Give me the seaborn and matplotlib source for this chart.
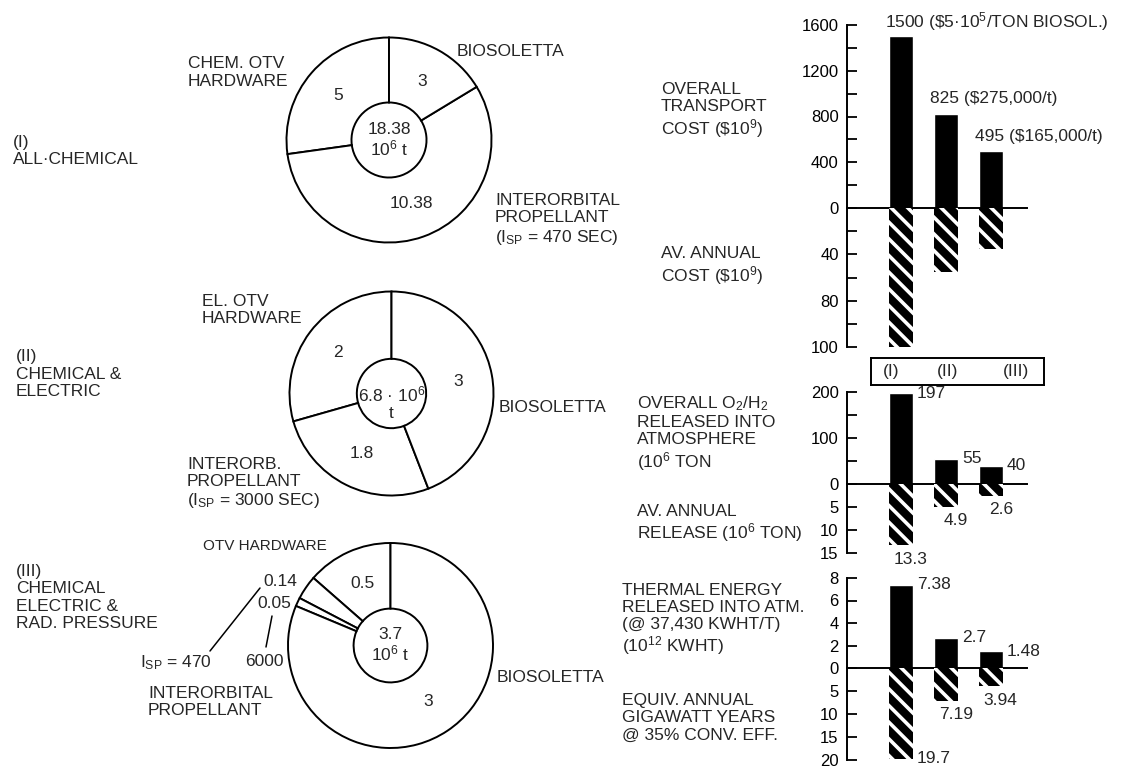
# Transport mass / cost / emission comparison of the three OTV options
import numpy as np
import seaborn as sns
import matplotlib.pyplot as plt
from matplotlib.lines import Line2D

# ---- data ----
cases = ['(I)', '(II)', '(III)']

# mass split in 10^6 t, wedges counter-clockwise from 12 o'clock
mass_all_chem = [5, 10.38, 3]          # OTV hardware, propellant, biosoletta
mass_chem_elec = [2, 1.8, 3]
mass_rad_press = [0.5, 0.14, 0.05, 3]
mass_totals = [18.38, 6.8, 3.7]

transport_cost = [1500, 825, 495]      # $10^9
annual_cost = [120, 55, 35]            # read against the printed lower axis
cost_notes = [r'(\$5·10$^5$/TON BIOSOL.)', '($275,000/t)', '($165,000/t)']

o2h2_release = [197, 55, 40]           # 10^6 ton
annual_release = [13.3, 4.9, 2.6]

thermal_energy = [7.38, 2.7, 1.48]     # 10^12 kWht
gigawatt_years = [19.7, 7.19, 3.94]

# ---- style ----
sns.set_theme(style='white')
plt.rcParams['font.family'] = ['Liberation Sans', 'DejaVu Sans']
plt.rcParams['mathtext.default'] = 'regular'
plt.rcParams['hatch.linewidth'] = 2.6
FS = 12.5
W, H = 1123, 768

fig = plt.figure(figsize=(11.23, 7.68), dpi=100)


def rect(x0, y0, x1, y1):
    # pixel box (y down) -> figure fraction
    return [x0 / W, 1 - y1 / H, (x1 - x0) / W, (y1 - y0) / H]


def put(x, y, s, **kw):
    kw.setdefault('va', 'center')
    kw.setdefault('fontsize', FS)
    kw.setdefault('linespacing', 1.17)
    fig.text(x / W, 1 - y / H, s, **kw)


def donut(cx, cy, R, vals, hole, total, total_dy=0.0):
    s = R * 1.03
    ax = fig.add_axes(rect(cx - s, cy - s, cx + s, cy + s))
    tot = sum(vals)
    ax.pie(vals, startangle=90, counterclock=True, colors=['white'] * len(vals),
           wedgeprops=dict(width=1 - hole, edgecolor='black', linewidth=1.4),
           autopct=lambda p: f"{p * tot / 100:g}" if p > 5 else '',
           pctdistance=0.66, textprops=dict(fontsize=FS))
    ax.set_xlim(-1.03, 1.03)
    ax.set_ylim(-1.03, 1.03)
    ax.set_aspect('equal')
    ax.axis('off')
    ax.text(0, total_dy, total, ha='center', va='center', fontsize=FS, linespacing=1.1)
    return ax


# ---- donuts ----
donut(389, 140, 102.5, mass_all_chem, 0.366, f"{mass_totals[0]:g}\n10$^6$ t")
donut(391.5, 393.5, 102, mass_chem_elec, 0.34, f"{mass_totals[1]:g} · 10$^6$\nt", -0.09)
donut(390.5, 645.5, 102.5, mass_rad_press, 0.36, f"{mass_totals[2]:g}\n10$^6$ t")

put(13, 151, '(I)\nALL·CHEMICAL')
put(188, 72.5, 'CHEM. OTV\nHARDWARE')
put(457, 51, 'BIOSOLETTA')
put(495, 220, 'INTERORBITAL\nPROPELLANT\n(I$_{SP}$ = 470 SEC)')

put(16, 374, '(II)\nCHEMICAL &\nELECTRIC')
put(202, 310, 'EL. OTV\nHARDWARE')
put(499, 408, 'BIOSOLETTA')
put(187, 483.5, 'INTERORB.\nPROPELLANT\n(I$_{SP}$ = 3000 SEC)')

put(16, 597.5, '(III)\nCHEMICAL\nELECTRIC &\nRAD. PRESSURE')
put(203, 546, 'OTV HARDWARE', fontsize=11)
put(263, 581, f"{mass_rad_press[1]:g}")
put(257, 603, f"{mass_rad_press[2]:g}")
put(140, 663, 'I$_{SP}$ = 470')
put(245, 662, '6000')
put(148, 702, 'INTERORBITAL\nPROPELLANT')
put(497, 677, 'BIOSOLETTA')
for (x0, y0, x1, y1) in [(260, 588, 210, 651), (272, 616, 266, 647)]:
    fig.add_artist(Line2D([x0 / W, x1 / W], [1 - y0 / H, 1 - y1 / H], color='black', lw=1.1))

# ---- bar panels ----
X0, X1 = 847, 1027
BW = 0.53


def bar_panel(top, zero, bottom, up_vals, dn_vals, up_lim, dn_lim,
              up_ticks, up_labels, dn_ticks, dn_labels):
    ax_up = fig.add_axes(rect(X0, top, X1, zero))
    ax_dn = fig.add_axes(rect(X0, zero, X1, bottom))
    sns.barplot(x=cases, y=up_vals, ax=ax_up, color='black', width=BW,
                saturation=1, errorbar=None)
    sns.barplot(x=cases, y=dn_vals, ax=ax_dn, color='black', width=BW,
                saturation=1, errorbar=None, hatch='\\\\', edgecolor='white', linewidth=0)
    for ax in (ax_up, ax_dn):
        ax.set_xlim(-1.2, 2.8)
        ax.set_xticks([])
        ax.set_xlabel('')
        ax.set_ylabel('')
        for sp in ['top', 'right', 'bottom']:
            ax.spines[sp].set_visible(False)
        ax.spines['left'].set_linewidth(1.4)
        ax.spines['left'].set_color('black')
        ax.tick_params(axis='y', left=True, direction='in', length=7, width=1.3,
                       pad=6, labelsize=12, colors='black')
        ax.patch.set_alpha(0)
    ax_up.spines['bottom'].set_visible(True)
    ax_up.spines['bottom'].set_linewidth(1.4)
    ax_up.spines['bottom'].set_color('black')
    ax_up.set_ylim(0, up_lim)
    ax_up.set_yticks(up_ticks, up_labels)
    ax_dn.set_ylim(dn_lim, 0)
    ax_dn.set_yticks(dn_ticks, dn_labels)
    return ax_up, ax_dn


def side_labels(ax, vals):
    for i, v in enumerate(vals):
        ax.annotate(f"{v:g}", xy=(i + BW / 2, v), xytext=(3, 0), textcoords='offset points',
                    ha='left', va='center', fontsize=FS)


def below_labels(ax, vals, skip=()):
    for i, v in enumerate(vals):
        if i in skip:
            continue
        ax.annotate(f"{v:g}", xy=(i, v), xytext=(7, -10), textcoords='offset points',
                    ha='center', va='center', fontsize=FS)


# panel 1: transport cost
up, dn = bar_panel(25, 208, 347, transport_cost, annual_cost, 1600, 120,
                   np.arange(0, 1601, 200), ['0', '', '400', '', '800', '', '1200', '', '1600'],
                   np.arange(20, 121, 20), ['', '40', '', '80', '', '100'])
for i, (v, note) in enumerate(zip(transport_cost, cost_notes)):
    up.annotate(f"{v} {note}", xy=(i - BW / 2, v), xytext=(-3, 11), textcoords='offset points',
                ha='left', va='center', fontsize=FS)
put(661, 111, 'OVERALL\nTRANSPORT\nCOST (\\$10$^9$)')
put(661, 266.5, 'AV. ANNUAL\nCOST (\\$10$^9$)')

# legend box
box = fig.add_axes(rect(871, 358, 1044, 385))
box.set_xticks([])
box.set_yticks([])
for sp in box.spines.values():
    sp.set_visible(True)
    sp.set_color('black')
    sp.set_linewidth(1.4)
for xf, c in zip([0.116, 0.445, 0.838], cases):
    box.text(xf, 0.5, c, ha='center', va='center', fontsize=FS, transform=box.transAxes)

# panel 2: O2/H2 release
up, dn = bar_panel(392, 484, 553, o2h2_release, annual_release, 200, 15,
                   [0, 50, 100, 150, 200], ['0', '', '100', '', '200'],
                   [5, 10, 15], ['5', '10', '15'])
side_labels(up, o2h2_release)
below_labels(dn, annual_release)
put(637, 433.5, 'OVERALL O$_2$/H$_2$\nRELEASED INTO\nATMOSPHERE\n(10$^6$ TON')
put(637, 524, 'AV. ANNUAL\nRELEASE (10$^6$ TON)')

# panel 3: thermal energy
up, dn = bar_panel(578, 668, 760, thermal_energy, gigawatt_years, 8, 20,
                   [0, 2, 4, 6, 8], ['0', '2', '4', '6', '8'],
                   [5, 10, 15, 20], ['5', '10', '15', '20'])
side_labels(up, thermal_energy)
dn.annotate(f"{gigawatt_years[0]:g}", xy=(BW / 2, gigawatt_years[0]), xytext=(3, 0),
            textcoords='offset points', ha='left', va='center', fontsize=FS)
below_labels(dn, gigawatt_years, skip=(0,))
put(622, 620, 'THERMAL ENERGY\nRELEASED INTO ATM.\n(@ 37,430 KWHT/T)\n(10$^{12}$ KWHT)')
put(622, 718, 'EQUIV. ANNUAL\nGIGAWATT YEARS\n@ 35% CONV. EFF.')

plt.savefig('out.png', dpi=100)
